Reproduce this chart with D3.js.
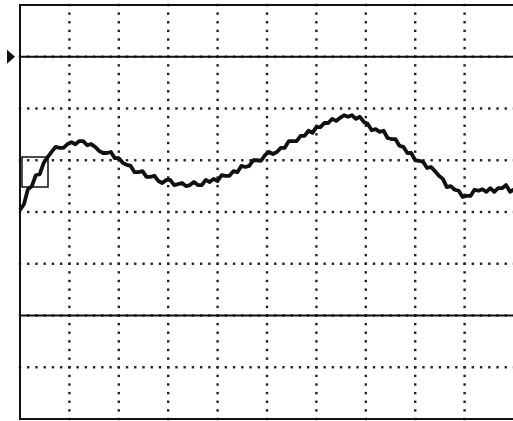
<!DOCTYPE html>
<html>
<head>
<meta charset="utf-8">
<script src="https://cdn.jsdelivr.net/npm/d3@7"></script>
<style>
  body { margin: 0; background: #fff; }
  svg { display: block; }
</style>
</head>
<body>
<svg width="513" height="421"></svg>
<script>
// trace samples, in vertical divisions (0 = screen centre), one every 0.08 div
const sampleStep = 0.08;
const traceValues = [
  0.04, 0.15, 0.44, 0.50, 0.71, 0.73, 0.95, 1.06, 1.16, 1.26,
  1.24, 1.24, 1.31, 1.35, 1.31, 1.37, 1.37, 1.29, 1.31, 1.26,
  1.18, 1.14, 1.14, 1.16, 1.04, 1.04, 0.95, 0.91, 0.89, 0.77,
  0.77, 0.79, 0.68, 0.68, 0.70, 0.60, 0.56, 0.62, 0.62, 0.52,
  0.54, 0.56, 0.50, 0.52, 0.58, 0.52, 0.52, 0.62, 0.58, 0.64,
  0.60, 0.71, 0.70, 0.70, 0.79, 0.77, 0.89, 0.87, 0.89, 1.00,
  1.00, 0.99, 1.10, 1.16, 1.12, 1.16, 1.24, 1.24, 1.37, 1.37,
  1.37, 1.47, 1.47, 1.57, 1.53, 1.64, 1.64, 1.72, 1.72, 1.80,
  1.76, 1.82, 1.87, 1.84, 1.87, 1.80, 1.84, 1.74, 1.70, 1.58,
  1.60, 1.55, 1.57, 1.43, 1.41, 1.41, 1.28, 1.26, 1.14, 1.14,
  1.00, 0.99, 0.97, 0.85, 0.87, 0.79, 0.70, 0.64, 0.48, 0.50,
  0.43, 0.41, 0.29, 0.31, 0.31, 0.43, 0.41, 0.44, 0.39, 0.46,
  0.39, 0.46, 0.46, 0.52, 0.39, 0.44
];
const timeDivs = [1, 2, 3, 4, 5, 6, 7, 8, 9];
const levelDivs = [3, 2, 1, 0, -1, -2, -3];
const cursorLevels = [3, -2];
const groundMarker = 3;

let svg = d3.select("svg");

let x = d3.scaleLinear().domain([0, 10]).range([20, 514]);
let y = d3.scaleLinear().domain([-4, 4]).range([419, 5]);

let grid = svg.append("g").attr("fill", "#222");

// dotted graticule, 6 dots per division
timeDivs.forEach(t => {
    d3.range(-4, 4.001, 1 / 6).forEach(v => {
        grid.append("rect")
            .attr("x", x(t) - 1.2).attr("y", y(v) - 1.2)
            .attr("width", 2.4).attr("height", 2.4);
    });
});
levelDivs.forEach(v => {
    d3.range(0, 10.001, 1 / 6).forEach(t => {
        grid.append("rect")
            .attr("x", x(t) - 1.2).attr("y", y(v) - 1.2)
            .attr("width", 2.4).attr("height", 2.4);
    });
});

// cursors
svg.selectAll(".cursor")
    .data(cursorLevels)
  .enter().append("line")
    .attr("class", "cursor")
    .attr("x1", x(0)).attr("x2", x(10))
    .attr("y1", d => y(d)).attr("y2", d => y(d))
    .attr("stroke", "#111").attr("stroke-width", 2);

// frame
svg.append("rect")
    .attr("x", x(0)).attr("y", y(4))
    .attr("width", x(10) - x(0)).attr("height", y(-4) - y(4))
    .attr("fill", "none").attr("stroke", "#111").attr("stroke-width", 2);

// ground level marker
let gy = y(groundMarker);
svg.append("path")
    .attr("d", `M7,${gy - 7}L15,${gy}L7,${gy + 7}Z`)
    .attr("fill", "#111");

// trigger box
svg.append("rect")
    .attr("x", 22).attr("y", 157)
    .attr("width", 26).attr("height", 30)
    .attr("fill", "none").attr("stroke", "#111").attr("stroke-width", 1.5);

// trace
let line = d3.line()
    .x((d, i) => x(i * sampleStep))
    .y(d => y(d));

svg.append("path")
    .datum(traceValues)
    .attr("d", line)
    .attr("fill", "none")
    .attr("stroke", "#111")
    .attr("stroke-width", 3.8)
    .attr("stroke-linejoin", "round");
</script>
</body>
</html>
